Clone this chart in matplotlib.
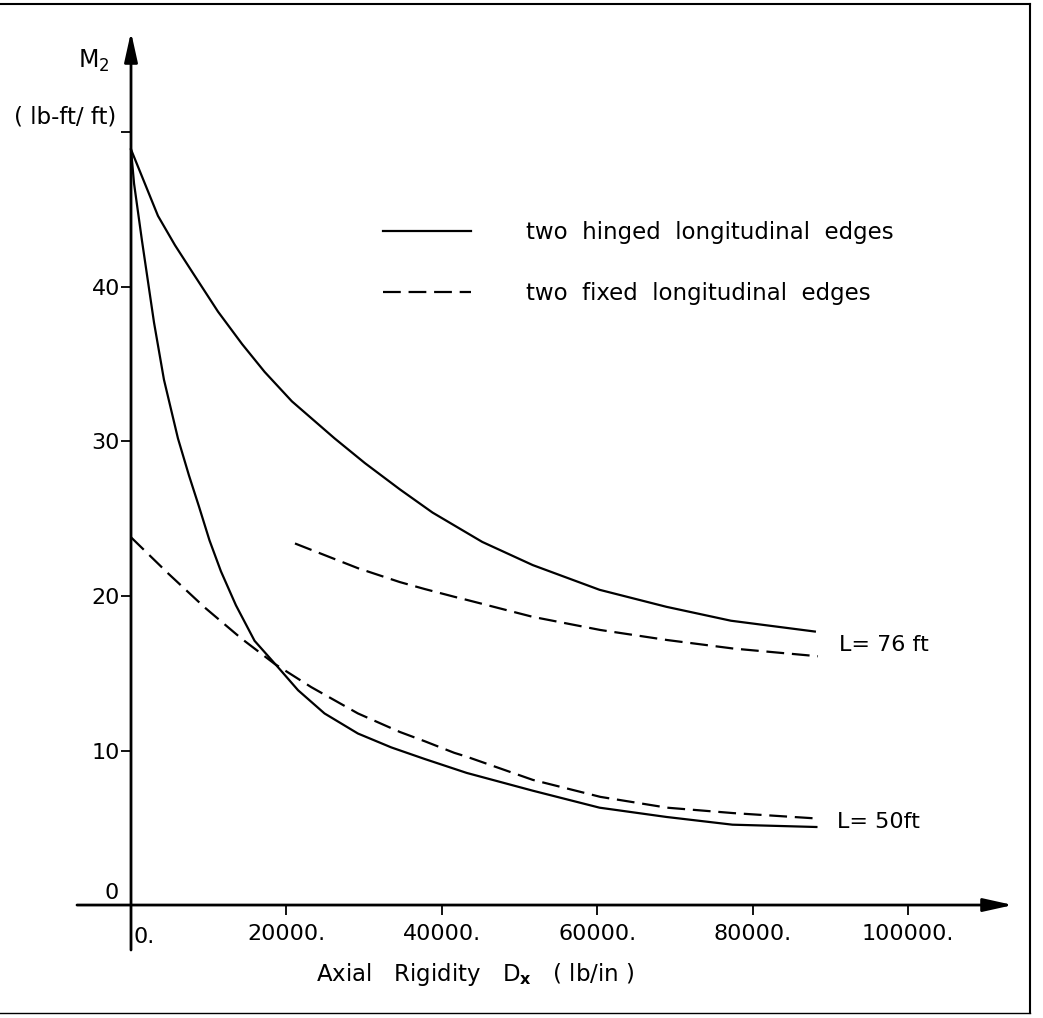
import matplotlib
matplotlib.use("Agg")
import matplotlib.pyplot as plt
from matplotlib.lines import Line2D

# ---------------- data (x: axial rigidity Dx in lb/in, y: M2 in lb-ft/ft) -------------
l76_hinged_x = [0, 3470, 5660, 7840, 11200, 14300, 17200, 20700, 26200, 30100,
                34600, 38800, 45200, 51700, 60300, 68900, 77200, 88000]
l76_hinged_y = [48.9, 44.6, 42.7, 41.0, 38.4, 36.3, 34.5, 32.6, 30.2, 28.6,
                26.9, 25.4, 23.5, 22.0, 20.4, 19.3, 18.4, 17.7]

l76_fixed_x = [21100, 29200, 34600, 37800, 41600, 43200, 51700, 60400, 69000, 77500, 88400]
l76_fixed_y = [23.4, 21.8, 20.9, 20.45, 19.95, 19.75, 18.65, 17.8, 17.15, 16.6, 16.1]

l50_hinged_x = [0, 390, 1410, 2960, 4240, 6040, 7460, 8740, 10100, 11570, 13500,
                15900, 18900, 21500, 24900, 29200, 33500, 37800, 43200, 51700,
                60300, 68900, 77400, 88200]
l50_hinged_y = [48.9, 46.7, 43.0, 37.7, 34.0, 30.2, 27.8, 25.8, 23.6, 21.6, 19.4,
                17.1, 15.4, 13.9, 12.4, 11.1, 10.2, 9.45, 8.55, 7.4,
                6.3, 5.7, 5.2, 5.05]

l50_fixed_x = [0, 4800, 9500, 14200, 18500, 23200, 29200, 34600, 37800, 41600, 43200,
               51700, 60400, 69000, 77500, 88300]
l50_fixed_y = [23.8, 21.45, 19.25, 17.25, 15.6, 14.1, 12.4, 11.2, 10.6, 9.85, 9.6,
               8.1, 7.0, 6.3, 5.95, 5.6]

x_ticks = [20000, 40000, 60000, 80000, 100000]
x_tick_labels = ["20000.", "40000.", "60000.", "80000.", "100000."]
y_ticks = [10, 20, 30, 40, 50]
y_tick_labels = ["10", "20", "30", "40", ""]

legend_labels = ["two  hinged  longitudinal  edges", "two  fixed  longitudinal  edges"]
curve_labels = ["L= 76 ft", "L= 50ft"]

# ---------------- figure -------------------------------------------------------------
plt.rcParams["font.family"] = ["DejaVu Sans"]
plt.rcParams["mathtext.default"] = "regular"
FS = 16
W, H = 1043, 1018
fig = plt.figure(figsize=(W / 100, H / 100), dpi=100)
ax = fig.add_axes([77 / W, 1 - 950 / H, 936 / W, 918 / H])
ax.set_xlim(-6950, 113500)
ax.set_ylim(-2.91, 56.5)
ax.patch.set_alpha(0)

for s in ["top", "right"]:
    ax.spines[s].set_visible(False)
ax.spines["left"].set_position(("data", 0))
ax.spines["bottom"].set_position(("data", 0))
ax.spines["left"].set_visible(False)
ax.spines["bottom"].set_visible(False)

# axes drawn as arrows
arrow = dict(arrowstyle="-|>,head_length=0.9,head_width=0.2", lw=2, color="black",
             shrinkA=0, shrinkB=0, mutation_scale=20)
ax.annotate("", xy=(113500, 0), xytext=(-6950, 0), arrowprops=arrow)
ax.annotate("", xy=(0, 56.5), xytext=(0, -2.91), arrowprops=arrow)

ax.set_xticks(x_ticks)
ax.set_xticklabels(x_tick_labels)
ax.set_yticks(y_ticks)
ax.set_yticklabels(y_tick_labels)
ax.tick_params(axis="x", direction="out", length=7, width=1.3, pad=7, labelsize=FS)
ax.tick_params(axis="y", direction="out", length=7, width=1.3, pad=1, labelsize=FS)

ax.text(260, -1.45, "0.", ha="left", va="top", fontsize=FS)
ax.text(-1540, 0.15, "0", ha="right", va="bottom", fontsize=FS)

# curves
lw = 1.6
dash = (0, (8, 3.5))
h1, = ax.plot(l76_hinged_x, l76_hinged_y, color="black", lw=lw)
h2, = ax.plot(l76_fixed_x, l76_fixed_y, color="black", lw=lw, linestyle=dash)
ax.plot(l50_hinged_x, l50_hinged_y, color="black", lw=lw)
ax.plot(l50_fixed_x, l50_fixed_y, color="black", lw=lw, linestyle=dash)

# curve labels
ax.text(91100, l76_hinged_y[-1] - 0.9, curve_labels[0], fontsize=FS, va="center", ha="left")
ax.text(90900, l50_hinged_y[-1] + 0.35, curve_labels[1], fontsize=FS, va="center", ha="left")

# legend
leg = ax.legend([h1, h2], legend_labels, loc="upper left",
                bbox_to_anchor=(0.327, 0.794), frameon=False, fontsize=FS + 0.5,
                handlelength=3.85, handletextpad=2.4, labelspacing=1.65,
                borderpad=0, borderaxespad=0)

# axis titles
ax.text(-6800, 54.2, r"M$_2$", fontsize=FS + 1, ha="left", va="baseline", clip_on=False)
ax.text(-8500, 51.0, "( lb-ft/ ft)", fontsize=FS + 0.5, ha="center", va="center",
        clip_on=False)
fig.text(475 / W, 1 - 975 / H, r"Axial   Rigidity   D$_\mathbf{x}$   ( lb/in )",
         fontsize=FS + 0.5, ha="center", va="center")

# outer frame
fig.add_artist(Line2D([0, 1030 / W], [1 - 4 / H, 1 - 4 / H], color="black", lw=1.5,
                      transform=fig.transFigure))
fig.add_artist(Line2D([1030 / W, 1030 / W], [1 - 4 / H, 1 - 1013 / H], color="black",
                      lw=1.5, transform=fig.transFigure))
fig.add_artist(Line2D([0, 1030 / W], [1 - 1013 / H, 1 - 1013 / H], color="black",
                      lw=1.0, transform=fig.transFigure))

fig.savefig("out.png", dpi=100, facecolor="white")
